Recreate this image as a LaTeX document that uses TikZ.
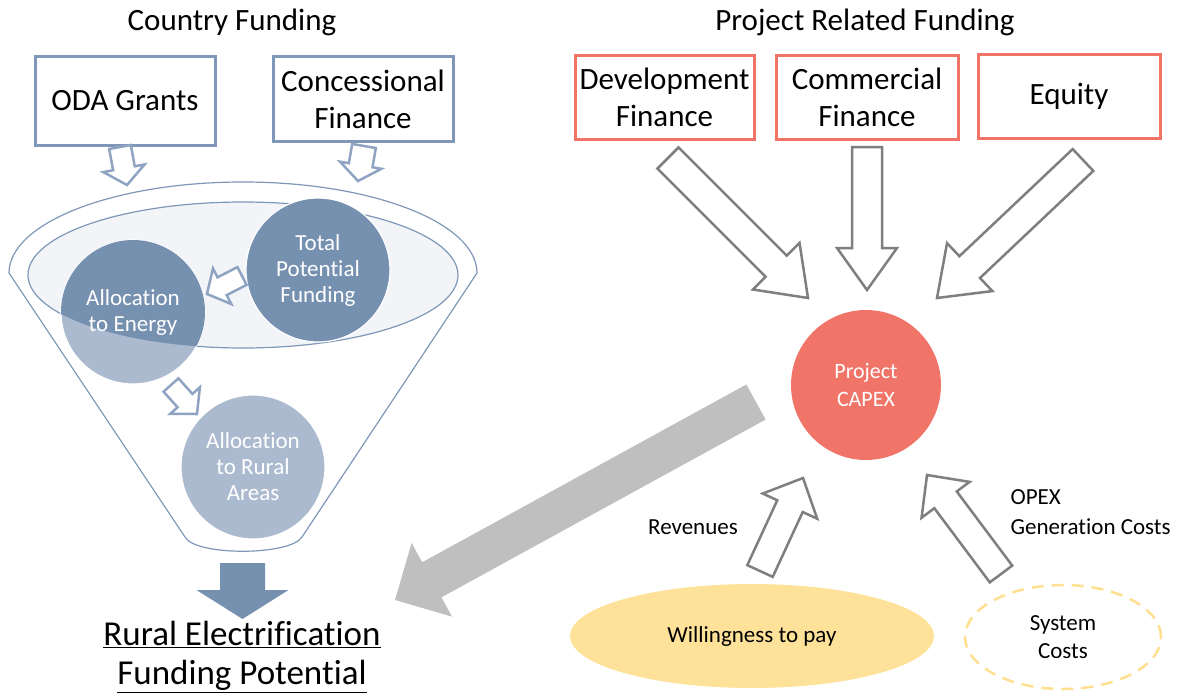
\documentclass[tikz,border=0pt]{standalone}
\usepackage{fontspec}
\setmainfont{Carlito}[Ligatures=NoCommon]
\usetikzlibrary{calc,shapes.geometric}
\definecolor{bluestroke}{HTML}{7F97B8}
\definecolor{arrowblue}{HTML}{8FA4C2}
\definecolor{darkcirc}{HTML}{7690B0}
\definecolor{lightcirc}{HTML}{ABBACF}
\definecolor{innerfill}{HTML}{F2F4F8}
\definecolor{redc}{HTML}{F07468}
\definecolor{grayarrow}{HTML}{7F7F7F}
\definecolor{biggray}{HTML}{BFBFBF}
\definecolor{goldfill}{HTML}{FFE29A}
\definecolor{golddash}{HTML}{FFDF90}
\newcommand\barrow[6]{%
  \coordinate (#2-#3-n) at ($(#3)!#6!(#2)$);
  \path[#1] ($(#2)!#4!90:(#3)$) -- ($(#2-#3-n)!#4!90:(#3)$) -- ($(#2-#3-n)!#5!90:(#3)$) -- (#3)
    -- ($(#2-#3-n)!#5!-90:(#3)$) -- ($(#2-#3-n)!#4!-90:(#3)$) -- ($(#2)!#4!-90:(#3)$) -- cycle;
}
\begin{document}
\begin{tikzpicture}[x=1pt,y=-1pt,
  bluebox/.style={draw=bluestroke, line width=3pt, fill=white, align=center, inner sep=0pt, font=\fontsize{31}{37}\selectfont},
  redbox/.style={draw=redc, line width=3pt, fill=white, align=center, inner sep=0pt, font=\fontsize{31}{37}\selectfont},
  title/.style={font=\fontsize{31}{37}\selectfont},
  bubble/.style={circle, inner sep=0pt, minimum size=144pt, draw=white, line width=1.2pt},
  bubtext/.style={align=center, text=white, font=\fontsize{23}{26}\selectfont},
  smallarrow/.style={draw=arrowblue, line width=2.5pt, fill=white, line join=miter},
  grayhollow/.style={draw=grayarrow, line width=2.5pt, fill=white, line join=miter},
  label/.style={font=\fontsize{23}{30}\selectfont, align=left},
]
\useasboundingbox (0,0) rectangle (1181,693);

% titles
\node[title] (t1) at (232,22) {Country Funding};
\node[title] (t2) at (865,22) {Project Related Funding};

% boxes
\node[bluebox, minimum width=180pt, minimum height=88pt] (oda) at (125,101) {ODA Grants};
\node[bluebox, minimum width=180pt, minimum height=84pt] (conc) at (363,99) {Concessional\\Finance};
\node[redbox, minimum width=179pt, minimum height=84pt] (dev) at (664.5,97.5) {Development\\Finance};
\node[redbox, minimum width=182pt, minimum height=84pt] (comm) at (867,97.5) {Commercial\\Finance};
\node[redbox, minimum width=182pt, minimum height=83pt] (eq) at (1069,96.5) {Equity};

% funnel
\draw[bluestroke, line width=1.2pt, fill=white] (9,273) arc[start angle=180, end angle=360, x radius=234, y radius=91]
  -- (302,537) .. controls (290,556) and (195,556) .. (185,537) -- cycle;
\draw[bluestroke, line width=1.2pt, fill=innerfill] (243,275) ellipse[x radius=215, y radius=73];

% circles
\node[bubble, fill=darkcirc] (total) at (318,270) {};
\node[bubtext] at (total) {Total\\Potential\\Funding};
\node[bubble, fill=lightcirc] (energy) at (133,312) {};
\begin{scope}
  \clip (243,275) ellipse[x radius=215, y radius=73];
  \fill[darkcirc] (energy.center) circle[radius=72];
\end{scope}
\node[bubtext] at (energy) {Allocation\\to Energy};
\node[bubble, fill=lightcirc] (rural) at (253,467) {};
\node[bubtext] at (rural) {Allocation\\to Rural\\Areas};

% small arrows
\coordinate (a1s) at (120,147); \coordinate (a1e) at (127,185);
\barrow{smallarrow}{a1s}{a1e}{11pt}{21pt}{17pt}
\coordinate (a2s) at (364,146); \coordinate (a2e) at (358,181);
\barrow{smallarrow}{a2s}{a2e}{12pt}{21pt}{16pt}
\coordinate (a3s) at (242,276); \coordinate (a3e) at (207,294);
\barrow{smallarrow}{a3s}{a3e}{10pt}{20pt}{17pt}
\coordinate (a4s) at (171,385); \coordinate (a4e) at (197,414);
\barrow{smallarrow}{a4s}{a4e}{10pt}{20pt}{18pt}

% big blue arrow down
\coordinate (bds) at (242.5,563); \coordinate (bde) at (242.5,619);
\barrow{fill=darkcirc}{bds}{bde}{22.5pt}{46pt}{29pt}

% result text
\node[align=center, font=\fontsize{35}{39}\selectfont] (res) at (242,657) {\underline{Rural Electrification}\\\underline{Funding Potential}};

% CAPEX
\node[circle, inner sep=0pt, minimum size=150pt, fill=redc] (capex) at (866,385) {};
\node[bubtext, font=\fontsize{22}{28}\selectfont] at (capex) {Project\\CAPEX};

% gray arrows into capex
\coordinate (g1s) at (668,158); \coordinate (g1e) at (808,298);
\barrow{grayhollow}{g1s}{g1e}{15pt}{33pt}{45pt}
\coordinate (g2s) at (867,147); \coordinate (g2e) at (867,290);
\barrow{grayhollow}{g2s}{g2e}{15pt}{30pt}{42pt}
\coordinate (g3s) at (1083,160); \coordinate (g3e) at (937,298);
\barrow{grayhollow}{g3s}{g3e}{15pt}{33pt}{45pt}

% big gray arrow
\coordinate (bgs) at (756,402); \coordinate (bge) at (395,600);
\barrow{fill=biggray}{bgs}{bge}{20pt}{42pt}{42pt}

% bottom ellipses
\node[ellipse, inner sep=0pt, minimum width=364pt, minimum height=104pt, fill=goldfill, font=\fontsize{23}{28}\selectfont] (wtp) at (752,636) {Willingness to pay};
\node[ellipse, inner sep=0pt, minimum width=196pt, minimum height=104pt, draw=golddash, line width=2.5pt, dash pattern=on 12pt off 8pt, align=center, font=\fontsize{23}{28}\selectfont] (sys) at (1063,637) {System\\Costs};

% revenues / opex arrows
\coordinate (r1s) at (760,571); \coordinate (r1e) at (803,478);
\barrow{grayhollow}{r1s}{r1e}{14pt}{30pt}{31pt}
\coordinate (r2s) at (1001,574); \coordinate (r2e) at (927,475);
\barrow{grayhollow}{r2s}{r2e}{14pt}{30pt}{31pt}

\node[label] (rev) at (693,527) {Revenues};
\node[label, anchor=west] (opex) at (1007,512) {OPEX\\Generation Costs};
\end{tikzpicture}
\end{document}
